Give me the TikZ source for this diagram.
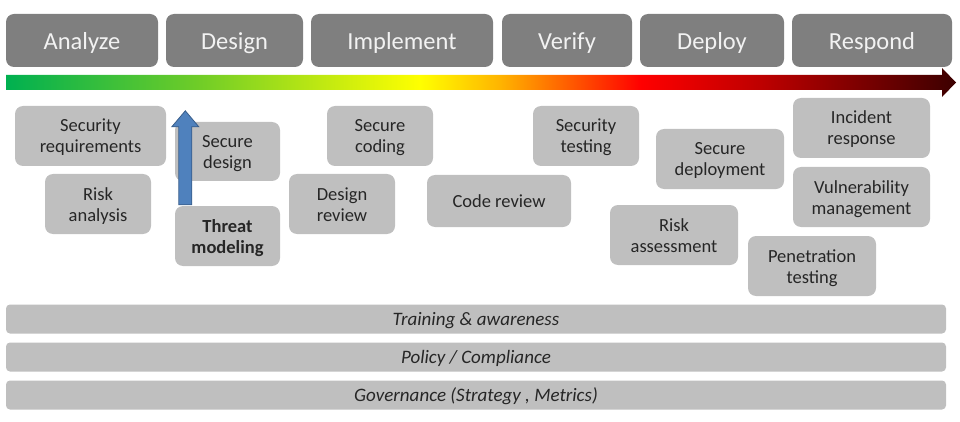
\documentclass[tikz,border=0pt]{standalone}
\usepackage{fontspec}
\setmainfont{Carlito}
\usetikzlibrary{calc}
\definecolor{phasegray}{RGB}{127,127,127}
\definecolor{boxgray}{RGB}{191,191,191}
\definecolor{txtdark}{RGB}{38,38,38}
\definecolor{txtlight}{RGB}{242,242,242}
\definecolor{arrowblue}{RGB}{79,129,189}
\definecolor{arrowedge}{RGB}{56,93,138}
% text block, lowered inside its node by half of #1
\newcommand{\boxtext}[2][4.6pt]{\raisebox{0pt}[\height][\dimexpr\depth-#1\relax]{\begin{tabular}{@{}c@{}}#2\end{tabular}}}
\pgfdeclarehorizontalshading{lifecycle}{100bp}{%
  color(0bp)=(rgb,255:red,0;green,176;blue,80);
  color(25bp)=(rgb,255:red,0;green,176;blue,80);
  color(35bp)=(rgb,255:red,110;green,204;blue,40);
  color(46.8bp)=(rgb,255:red,255;green,255;blue,0);
  color(51bp)=(rgb,255:red,255;green,180;blue,0);
  color(58.4bp)=(rgb,255:red,255;green,0;blue,0);
  color(64.7bp)=(rgb,255:red,190;green,0;blue,0);
  color(75bp)=(rgb,255:red,60;green,0;blue,0);
  color(100bp)=(rgb,255:red,60;green,0;blue,0)}
\tikzset{
  phase/.style={fill=phasegray, draw=none, rounded corners=8pt, inner sep=0pt,
    minimum height=53pt, text=txtlight, font=\fontsize{24.5}{28}\selectfont},
  activity/.style={fill=boxgray, draw=none, rounded corners=8pt, inner sep=0pt,
    text=txtdark, font=\fontsize{18.5}{21}\selectfont},
  layer/.style={fill=boxgray, draw=none, rounded corners=4pt, inner sep=0pt,
    minimum width=940pt, minimum height=29pt, text=txtdark,
    font=\fontsize{19}{22}\selectfont\itshape},
}
\begin{document}
\begin{tikzpicture}[x=1pt,y=-1pt]
\useasboundingbox (0,0) rectangle (960,422);
% phases
\node[phase, minimum width=152pt] (analyze) at (82,40.5) {\boxtext[6.4pt]{Analyze}};
\node[phase, minimum width=137pt] (design) at (234.5,40.5) {\boxtext[6.4pt]{Design}};
\node[phase, minimum width=182pt] (implement) at (402,40.5) {\boxtext[6.4pt]{Implement}};
\node[phase, minimum width=130pt] (verify) at (567,40.5) {\boxtext[6.4pt]{Verify}};
\node[phase, minimum width=144pt] (deploy) at (712,40.5) {\boxtext[6.4pt]{Deploy}};
\node[phase, minimum width=160pt] (respond) at (872,40.5) {\boxtext[6.4pt]{Respond}};
% gradient arrow
\shade[shading=lifecycle] (6,75) -- (942,75) -- (942,68) -- (956,82.5) -- (942,97) -- (942,90) -- (6,90) -- cycle;
% activities
\node[activity, minimum width=151pt, minimum height=60pt] (secreq) at (90.5,136) {\boxtext{Security\\requirements}};
\node[activity, minimum width=106pt, minimum height=60pt] (riskan) at (98,204) {\boxtext{Risk\\analysis}};
\node[activity, minimum width=105pt, minimum height=59pt] (secdes) at (227.5,151.5) {\boxtext{Secure\\design}};
\node[activity, minimum width=105pt, minimum height=60pt] (tm) at (227.5,236) {\boxtext{\bfseries Threat\\\bfseries modeling}};
\node[activity, minimum width=106pt, minimum height=60pt] (seccod) at (380,136) {\boxtext{Secure\\coding}};
\node[activity, minimum width=106pt, minimum height=60pt] (desrev) at (342,204) {\boxtext{Design\\review}};
\node[activity, minimum width=144pt, minimum height=52pt] (codrev) at (499,201) {\boxtext[3.6pt]{Code review}};
\node[activity, minimum width=106pt, minimum height=60pt] (sectest) at (586,136) {\boxtext{Security\\testing}};
\node[activity, minimum width=128pt, minimum height=60pt] (secdep) at (720,159) {\boxtext{Secure\\deployment}};
\node[activity, minimum width=128pt, minimum height=60pt] (riskas) at (674,235) {\boxtext{Risk\\assessment}};
\node[activity, minimum width=137pt, minimum height=60pt] (incid) at (861.5,128) {\boxtext{Incident\\response}};
\node[activity, minimum width=137pt, minimum height=60pt] (vuln) at (861.5,197) {\boxtext{Vulnerability\\management}};
\node[activity, minimum width=128pt, minimum height=60pt] (pentest) at (812,266) {\boxtext{Penetration\\testing}};
% blue arrow from threat modeling upward
\coordinate (tmanchor) at ($(tm.north west)+(0,-1)$);
\filldraw[fill=arrowblue, draw=arrowedge, line width=0.8pt, line join=miter]
  ($(tmanchor)+(4,0)$) -- ($(tmanchor)+(4,-78)$) -- ($(tmanchor)+(-3,-78)$)
  -- ($(tmanchor)+(10.5,-94)$) -- ($(tmanchor)+(24,-78)$) -- ($(tmanchor)+(17,-78)$)
  -- ($(tmanchor)+(17,0)$) -- cycle;
% layers
\node[layer] (training) at (476,319) {\boxtext{Training \& awareness}};
\node[layer] (policy) at (476,357) {\boxtext{Policy / Compliance}};
\node[layer] (gov) at (476,395) {\boxtext{Governance (Strategy , Metrics)}};
\end{tikzpicture}
\end{document}
